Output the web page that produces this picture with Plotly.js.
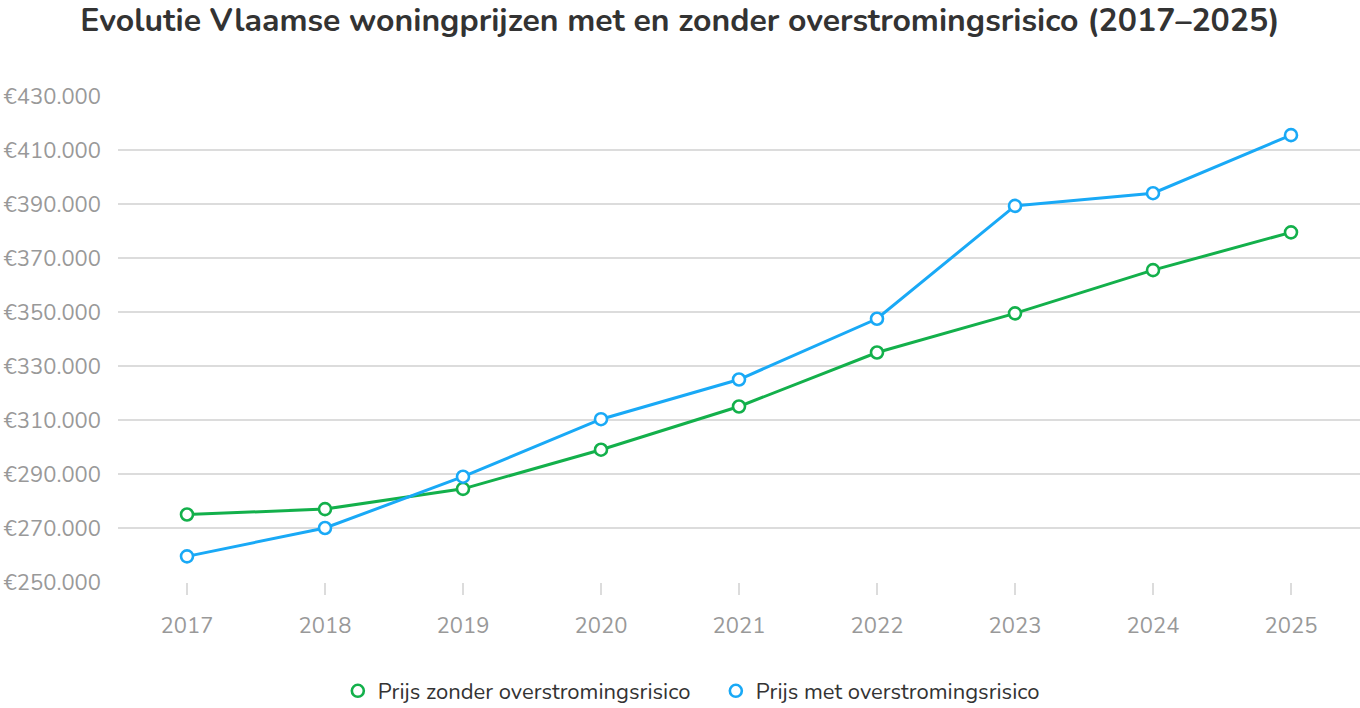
<!DOCTYPE html>
<html>
<head>
<meta charset="utf-8">
<script src="https://cdn.plot.ly/plotly-3.0.1.min.js"></script>
<style>html,body{margin:0;padding:0;background:#fff}#chart{width:1360px;height:708px}</style>
</head>
<body>
<div id="chart"></div>
<script>
const years = ["2017","2018","2019","2020","2021","2022","2023","2024","2025"];
const prijsZonder = [275000, 277000, 284500, 299000, 315000, 335000, 349500, 365500, 379500];
const prijsMet = [259500, 270000, 289000, 310300, 325000, 347500, 389300, 394000, 415500];
const seriesNames = ["Prijs zonder overstromingsrisico", "Prijs met overstromingsrisico"];
const tickVals = [250000, 270000, 290000, 310000, 330000, 350000, 370000, 390000, 410000, 430000];
const tickText = ["€250.000","€270.000","€290.000","€310.000","€330.000","€350.000","€370.000","€390.000","€410.000","€430.000"];

const green = "#13b04b";
const blue = "#19a9f6";
const font = "Nunito, 'Open Sans', sans-serif";

function lineTrace(y, color, name) {
  return {
    x: years, y: y, type: "scatter", mode: "lines+markers", name: name,
    showlegend: false, cliponaxis: false,
    line: {color: color, width: 3},
    marker: {symbol: "circle", size: 12, color: "#fff", line: {color: color, width: 2.6}},
    hoverinfo: "x+y"
  };
}
function legendTrace(color, name) {
  return {
    x: [null], y: [null], type: "scatter", mode: "markers", name: name,
    marker: {symbol: "circle", size: 12, color: "#fff", line: {color: color, width: 2.6}}
  };
}

const data = [
  lineTrace(prijsZonder, green, seriesNames[0]),
  lineTrace(prijsMet, blue, seriesNames[1]),
  legendTrace(green, seriesNames[0]),
  legendTrace(blue, seriesNames[1])
];

const layout = {
  width: 1360, height: 708,
  margin: {l: 118, r: 0, t: 96, b: 126},
  paper_bgcolor: "#fff", plot_bgcolor: "#fff",
  font: {family: font, color: "#999"},
  title: {text: "<b>Evolutie Vlaamse woningprijzen met en zonder overstromingsrisico (2017–2025)</b>",
          x: 0.5, xanchor: "center", y: 0.972, yanchor: "middle", yref: "container",
          font: {family: font, size: 32, color: "#333"}},
  xaxis: {
    type: "category", range: [-0.5, 8.5], showgrid: false, zeroline: false, showline: false,
    ticks: "outside", ticklen: 12, tickcolor: "#dcdcdc", tickwidth: 2,
    tickfont: {size: 22, color: "#999"}, ticklabelstandoff: 12
  },
  yaxis: {
    range: [250000, 430000], tickvals: tickVals, ticktext: tickText,
    showgrid: true, gridcolor: "#dcdcdc", gridwidth: 2, zeroline: false, showline: false,
    ticks: "", tickfont: {size: 22, color: "#999"}, ticklabelposition: "outside",
    ticklabelstandoff: 16, automargin: false
  },
  showlegend: true,
  legend: {orientation: "h", x: 0.177, xanchor: "left", y: 0.024, yref: "container", yanchor: "middle",
           font: {size: 22, color: "#333", family: font}, itemwidth: 30, tracegroupgap: 0,
           entrywidth: 333, entrywidthmode: "pixels",
           bgcolor: "rgba(0,0,0,0)"},
  hovermode: "closest"
};

Plotly.newPlot("chart", data, layout, {displayModeBar: false, responsive: false});
</script>
</body>
</html>
